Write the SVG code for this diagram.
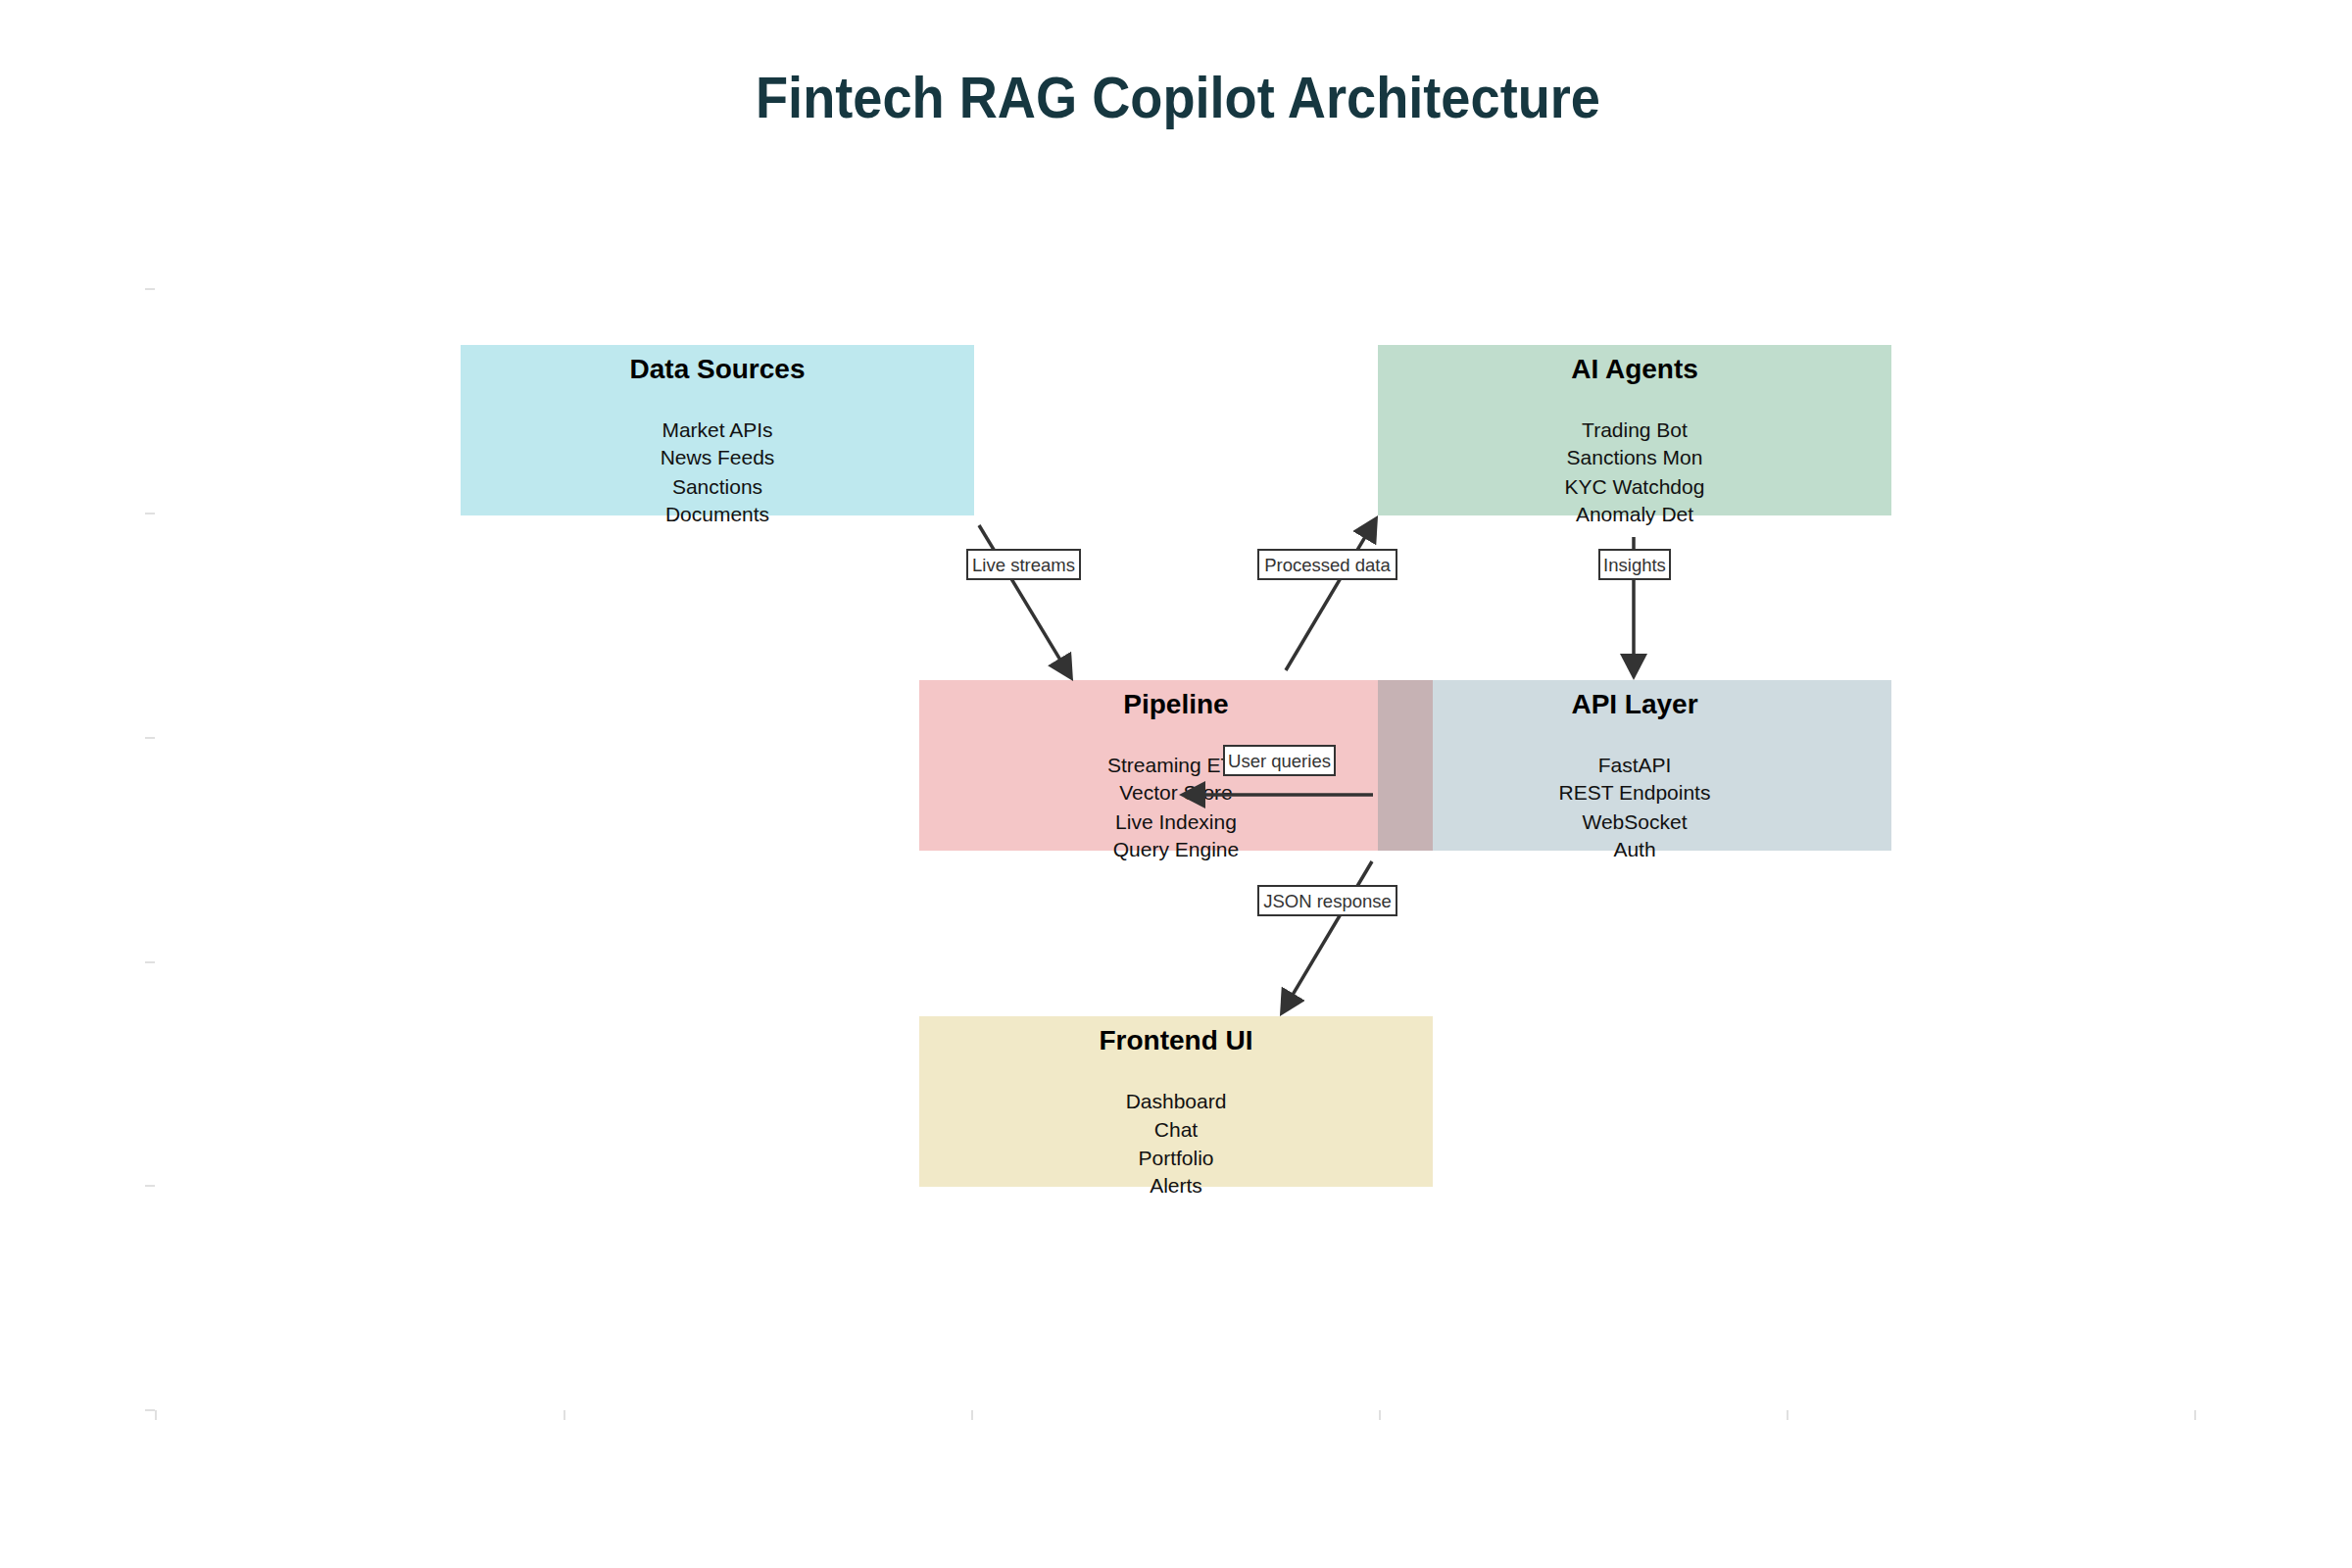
<svg xmlns="http://www.w3.org/2000/svg" width="2400" height="1600" viewBox="0 0 2400 1600">
<defs>
<style>
.title{font-family:"Liberation Sans",Arial,sans-serif;font-weight:bold;font-size:60px;fill:#163740;}
.nt{font-family:"Liberation Sans",Arial,sans-serif;font-weight:bold;font-size:28px;fill:#000;text-anchor:middle;}
.ni{font-family:"Liberation Sans",Arial,sans-serif;font-size:21px;fill:#111;text-anchor:middle;}
.edge{stroke:#333;stroke-width:3.5;fill:none;}
.lbox{fill:#fff;stroke:#333;stroke-width:2;}
.ltxt{font-family:"Liberation Sans",Arial,sans-serif;font-size:18.5px;fill:#333;text-anchor:middle;}
.tick{stroke:#cccccc;stroke-width:1.2;}
</style>
<marker id="ah" markerUnits="userSpaceOnUse" markerWidth="28" markerHeight="28" refX="7" refY="14" orient="auto">
<path d="M0,0 L27,14 L0,28 z" fill="#333"/>
</marker>
</defs>
<rect width="2400" height="1600" fill="#fff"/>
<g id="ticks">
<line class="tick" x1="148" y1="295" x2="158" y2="295"/>
<line class="tick" x1="148" y1="524" x2="158" y2="524"/>
<line class="tick" x1="148" y1="753" x2="158" y2="753"/>
<line class="tick" x1="148" y1="982" x2="158" y2="982"/>
<line class="tick" x1="148" y1="1210" x2="158" y2="1210"/>
<line class="tick" x1="148" y1="1439" x2="158" y2="1439"/>
<line class="tick" x1="159" y1="1439" x2="159" y2="1449"/>
<line class="tick" x1="576" y1="1439" x2="576" y2="1449"/>
<line class="tick" x1="992" y1="1439" x2="992" y2="1449"/>
<line class="tick" x1="1408" y1="1439" x2="1408" y2="1449"/>
<line class="tick" x1="1824" y1="1439" x2="1824" y2="1449"/>
<line class="tick" x1="2240" y1="1439" x2="2240" y2="1449"/>
</g>
<text class="title" x="771" y="120" textLength="862" lengthAdjust="spacingAndGlyphs">Fintech RAG Copilot Architecture</text>
<g id="node-data-sources">
<rect x="470" y="352" width="524" height="174" fill="#bee8ee"/>
<text class="nt" x="732" y="386">Data Sources</text>
<text class="ni" x="732" y="446">Market APIs</text>
<text class="ni" x="732" y="474">News Feeds</text>
<text class="ni" x="732" y="504">Sanctions</text>
<text class="ni" x="732" y="532">Documents</text>
</g>
<g id="node-ai-agents">
<rect x="1406" y="352" width="524" height="174" fill="#c0ddcd"/>
<text class="nt" x="1668" y="386">AI Agents</text>
<text class="ni" x="1668" y="446">Trading Bot</text>
<text class="ni" x="1668" y="474">Sanctions Mon</text>
<text class="ni" x="1668" y="504">KYC Watchdog</text>
<text class="ni" x="1668" y="532">Anomaly Det</text>
</g>
<g id="node-pipeline">
<rect x="938" y="694" width="524" height="174" fill="#f4c6c7"/>
<text class="nt" x="1200" y="728">Pipeline</text>
<text class="ni" x="1200" y="788">Streaming ETL</text>
<text class="ni" x="1200" y="816">Vector Store</text>
<text class="ni" x="1200" y="846">Live Indexing</text>
<text class="ni" x="1200" y="874">Query Engine</text>
</g>
<g id="node-api-layer">
<rect x="1406" y="694" width="524" height="174" fill="#cfdbe0"/>
<rect x="1406" y="694" width="56" height="174" fill="#c6b2b4"/>
<text class="nt" x="1668" y="728">API Layer</text>
<text class="ni" x="1668" y="788">FastAPI</text>
<text class="ni" x="1668" y="816">REST Endpoints</text>
<text class="ni" x="1668" y="846">WebSocket</text>
<text class="ni" x="1668" y="874">Auth</text>
</g>
<g id="node-frontend-ui">
<rect x="938" y="1037" width="524" height="174" fill="#f1e9c8"/>
<text class="nt" x="1200" y="1071">Frontend UI</text>
<text class="ni" x="1200" y="1131">Dashboard</text>
<text class="ni" x="1200" y="1160">Chat</text>
<text class="ni" x="1200" y="1189">Portfolio</text>
<text class="ni" x="1200" y="1217">Alerts</text>
</g>
<g id="connectors">
<line class="edge" x1="999" y1="536" x2="1084.7" y2="677.9" marker-end="url(#ah)"/>
<line class="edge" x1="1312" y1="684" x2="1395.8" y2="543.2" marker-end="url(#ah)"/>
<line class="edge" x1="1667" y1="548" x2="1667" y2="674" marker-end="url(#ah)"/>
<line class="edge" x1="1401" y1="811" x2="1223" y2="811" marker-end="url(#ah)"/>
<line class="edge" x1="1400" y1="879" x2="1316.2" y2="1019.8" marker-end="url(#ah)"/>
<rect class="lbox" x="987" y="561" width="115" height="30"/>
<text class="ltxt" x="1044.5" y="582.5">Live streams</text>
<rect class="lbox" x="1284" y="561" width="141" height="30"/>
<text class="ltxt" x="1354.5" y="582.5">Processed data</text>
<rect class="lbox" x="1632" y="561" width="72" height="30"/>
<text class="ltxt" x="1668" y="582.5">Insights</text>
<rect class="lbox" x="1249" y="761" width="113" height="30"/>
<text class="ltxt" x="1305.5" y="782.5">User queries</text>
<rect class="lbox" x="1284" y="904" width="141" height="30"/>
<text class="ltxt" x="1354.5" y="925.5">JSON response</text>
</g>
</svg>
